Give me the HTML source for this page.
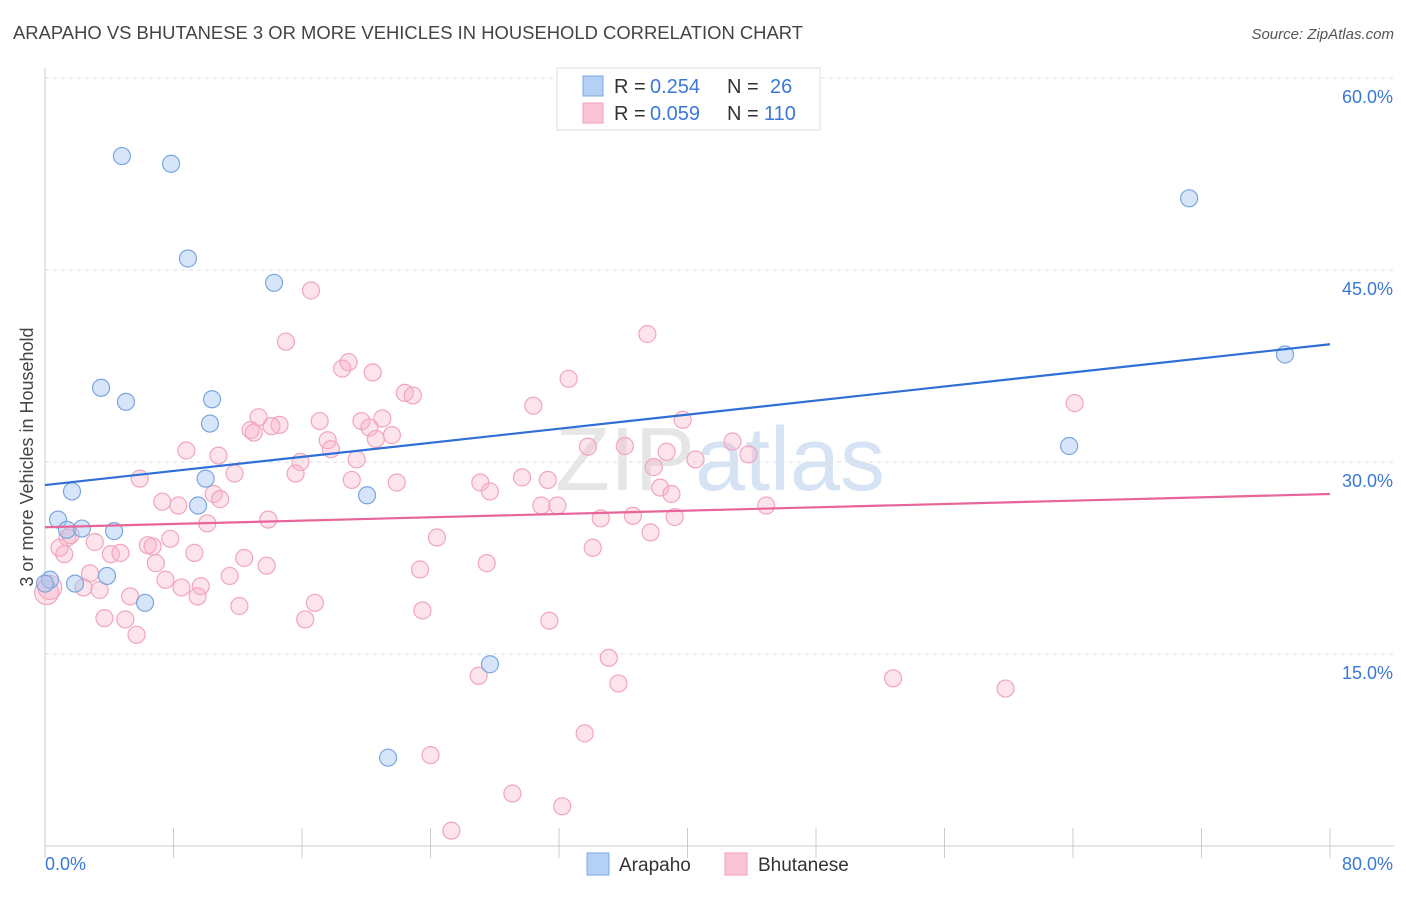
<!DOCTYPE html>
<html><head><meta charset="utf-8"><style>
body{margin:0;background:#fff;font-family:"Liberation Sans",sans-serif;}
svg text{font-family:"Liberation Sans",sans-serif;}
</style></head><body>
<svg id="chart" width="1406" height="892" viewBox="0 0 1406 892" xmlns="http://www.w3.org/2000/svg">
<text x="13" y="39" font-size="18" fill="#444" textLength="790" lengthAdjust="spacingAndGlyphs">ARAPAHO VS BHUTANESE 3 OR MORE VEHICLES IN HOUSEHOLD CORRELATION CHART</text>
<text x="1394" y="39" font-size="15" fill="#555" text-anchor="end" font-style="italic">Source: ZipAtlas.com</text>
<text x="720" y="490" font-size="90" fill="#e3e8ef" text-anchor="middle" font-family="Liberation Serif"><tspan fill="#e6e6e6">ZIP</tspan><tspan fill="#d6e3f4" font-family="Liberation Sans">atlas</tspan></text>
<g id="grid"></g>
<g id="axes"></g>
<g id="points"></g>
<g id="lines"></g>
<text transform="translate(33,457) rotate(-90)" font-size="18" fill="#444" text-anchor="middle">3 or more Vehicles in Household</text>
<g>
<rect x="557" y="68" width="263" height="62" fill="#fff" stroke="#ddd"/>
<rect x="583" y="76" width="20" height="20" fill="#b5d0f5" stroke="#7aa6e0"/>
<rect x="583" y="103" width="20" height="20" fill="#fac4d4" stroke="#f0a0b8"/>
<text x="614" y="93" font-size="20" fill="#333">R =</text>
<text x="650" y="93" font-size="20" fill="#3a78d8">0.254</text>
<text x="727" y="93" font-size="20" fill="#333">N =</text>
<text x="770" y="93" font-size="20" fill="#3a78d8">26</text>
<text x="614" y="120" font-size="20" fill="#333">R =</text>
<text x="650" y="120" font-size="20" fill="#3a78d8">0.059</text>
<text x="727" y="120" font-size="20" fill="#333">N =</text>
<text x="764" y="120" font-size="20" fill="#3a78d8">110</text>
</g>
<g>
<rect x="587" y="853" width="22" height="22" fill="#b5d0f5" stroke="#7aa6e0"/>
<text x="619" y="871" font-size="19" fill="#333">Arapaho</text>
<rect x="725" y="853" width="22" height="22" fill="#fac4d4" stroke="#f0a0b8"/>
<text x="758" y="871" font-size="19" fill="#333">Bhutanese</text>
</g>
</svg>
<script>
const yTicks=[15,30,45,60];
const yTickLabels=["15.0%","30.0%","45.0%","60.0%"];
const xTickVals=[0,8,16,24,32,40,48,56,64,72,80];
const arapahoX=[4.79,7.85,8.9,14.26,3.49,5.04,10.4,10.27,1.68,10.0,9.53,0.81,1.37,2.3,4.3,3.86,6.23,1.87,0.31,20.05,27.7,21.36,71.23,77.2,63.76,0];
const arapahoY=[53.9,53.3,45.9,44.0,35.8,34.7,34.9,33.0,27.7,28.7,26.6,25.5,24.7,24.8,24.6,21.1,19.0,20.5,20.8,27.4,14.2,6.9,50.6,38.4,31.25,20.5];
const bhutaneseX=[16.56,15.0,37.5,18.9,18.5,20.4,32.6,22.4,22.9,30.4,64.1,39.7,13.3,17.1,19.7,21.0,14.6,14.1,12.8,20.2,13.0,17.6,20.6,21.6,17.8,33.8,36.1,42.8,8.8,10.8,19.4,15.9,43.8,38.7,40.5,37.9,11.8,15.6,5.9,27.1,29.7,31.3,38.3,19.1,21.9,27.7,39.0,10.5,10.9,7.3,8.3,30.9,31.9,44.9,13.9,10.1,34.6,36.6,39.2,37.7,24.4,1.4,3.1,6.4,6.7,7.8,1.2,4.1,4.7,9.3,12.4,34.1,6.9,13.8,27.5,23.35,2.8,11.5,7.5,8.5,3.4,2.4,9.7,5.3,9.5,12.1,16.8,23.5,3.7,5.0,16.2,31.4,5.7,35.1,27.0,35.7,52.8,59.8,33.6,24.0,29.1,32.2,25.3,0.3,0.1,0.9,1.6];
const bhutaneseY=[43.4,39.4,40.0,37.8,37.3,37.0,36.5,35.4,35.2,34.4,34.6,33.3,33.5,33.2,33.2,33.4,32.9,32.8,32.5,32.7,32.3,31.7,31.8,32.1,31.0,31.2,31.25,31.6,30.9,30.5,30.2,30.0,30.6,30.8,30.2,29.6,29.1,29.1,28.7,28.4,28.8,28.6,28.0,28.6,28.4,27.7,27.5,27.5,27.1,26.9,26.6,26.6,26.6,26.6,25.5,25.2,25.6,25.8,25.7,24.5,24.1,24.1,23.75,23.5,23.4,24.0,22.8,22.8,22.9,22.9,22.5,23.3,22.1,21.9,22.1,21.6,21.3,21.1,20.8,20.2,20.0,20.2,20.3,19.5,19.5,18.75,19.0,18.4,17.8,17.7,17.7,17.6,16.5,14.7,13.3,12.7,13.1,12.3,8.8,7.1,4.1,3.1,1.2,20.2,19.8,23.3,24.3];
const arapahoTrend=[28.2,39.2];
const bhutaneseTrend=[24.9,27.5];
const NS="http://www.w3.org/2000/svg";
const X0=45,X1=1330,Y0=846,PXY=12.8;
function sx(v){return X0+v*(X1-X0)/80;}
function sy(v){return Y0-v*PXY;}
function mk(tag,attrs,parent){const e=document.createElementNS(NS,tag);for(const k in attrs)e.setAttribute(k,attrs[k]);parent.appendChild(e);return e;}
const grid=document.getElementById('grid'),axes=document.getElementById('axes'),pts=document.getElementById('points'),lines=document.getElementById('lines');
yTicks.forEach((t,i)=>{
 const l=mk('line',{x1:X0,x2:1394,y1:sy(t),y2:sy(t),stroke:'#ddd','stroke-dasharray':'4,4'},grid);
 
 
 const tx=mk('text',{x:1393,y:sy(t)+25,'font-size':18,fill:'#3a78d8','text-anchor':'end'},axes);
 tx.textContent=yTickLabels[i];
 
 
});
const ax=mk('line',{x1:X0,x2:X0,y1:68,y2:Y0,stroke:'#ccc'},axes);


const bx=mk('line',{x1:X0,x2:1394,y1:Y0,y2:Y0,stroke:'#ccc'},axes);


xTickVals.forEach(v=>{
 const t=mk('line',{x1:sx(v),x2:sx(v),y1:828,y2:858,stroke:'#ccc'},axes);
 
 
});
const xl0=mk('text',{x:45,y:870,'font-size':18,fill:'#3a78d8'},axes);xl0.textContent='0.0%';


const xl1=mk('text',{x:1393,y:870,'font-size':18,fill:'#3a78d8','text-anchor':'end'},axes);xl1.textContent='80.0%';


bhutaneseX.forEach((x,i)=>{
 const c=mk('circle',{cx:sx(x),cy:sy(bhutaneseY[i]),r:(x<0.5?12:8.5),fill:'rgba(248,175,198,0.35)',stroke:'#f2a5bd','stroke-width':1.2},pts);
 
 
});
arapahoX.forEach((x,i)=>{
 const c=mk('circle',{cx:sx(x),cy:sy(arapahoY[i]),r:8.5,fill:'rgba(165,198,242,0.45)',stroke:'#7aa6e0','stroke-width':1.2},pts);
 
 
});
const la=mk('line',{x1:sx(0),y1:sy(arapahoTrend[0]),x2:sx(80),y2:sy(arapahoTrend[1]),stroke:'#2f6fd6','stroke-width':2.2},lines);


const lb=mk('line',{x1:sx(0),y1:sy(bhutaneseTrend[0]),x2:sx(80),y2:sy(bhutaneseTrend[1]),stroke:'#e8659a','stroke-width':2.2},lines);


</script>
</body></html>
